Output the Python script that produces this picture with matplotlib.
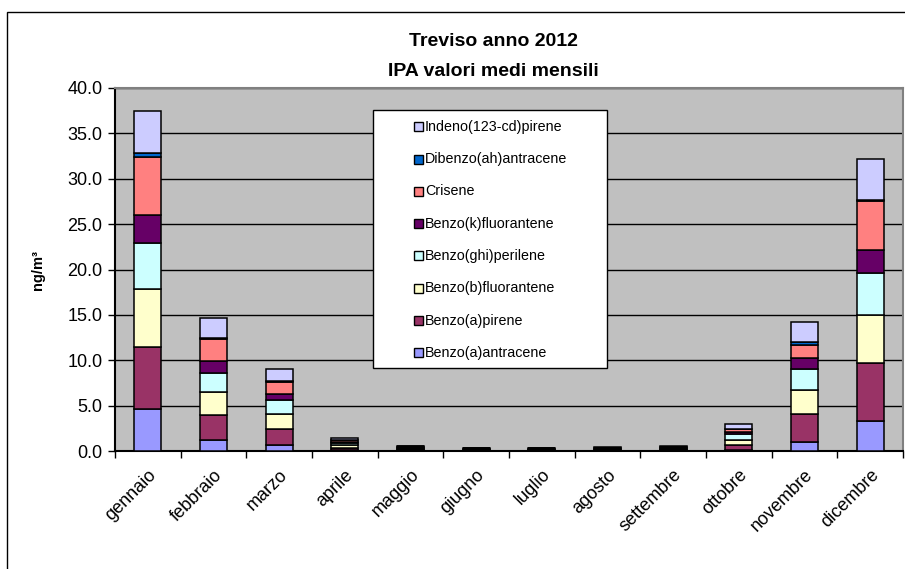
import numpy as np
import matplotlib
matplotlib.use("Agg")
from matplotlib import pyplot as plt, patches

plt.rcParams["font.family"] = ["Liberation Sans", "DejaVu Sans"]

months = ["gennaio", "febbraio", "marzo", "aprile", "maggio", "giugno",
          "luglio", "agosto", "settembre", "ottobre", "novembre", "dicembre"]

# IPA monthly means, ng/m3
benzo_a_antracene = [4.6, 1.25, 0.66, 0.10, 0.05, 0.03, 0.03, 0.03, 0.04, 0.10, 1.00, 3.30]
benzo_a_pirene = [6.9, 2.70, 1.75, 0.25, 0.10, 0.05, 0.05, 0.06, 0.09, 0.60, 3.05, 6.35]
benzo_b_fluorantene = [6.4, 2.55, 1.65, 0.30, 0.12, 0.08, 0.08, 0.08, 0.11, 0.55, 2.65, 5.30]
benzo_ghi_perilene = [5.0, 2.10, 1.55, 0.25, 0.10, 0.07, 0.07, 0.07, 0.10, 0.60, 2.30, 4.65]
benzo_k_fluorantene = [3.1, 1.30, 0.70, 0.10, 0.04, 0.03, 0.03, 0.03, 0.04, 0.20, 1.20, 2.50]
crisene = [6.4, 2.45, 1.30, 0.20, 0.08, 0.05, 0.05, 0.05, 0.07, 0.35, 1.50, 5.40]
dibenzo_ah_antracene = [0.4, 0.15, 0.10, 0.02, 0.01, 0.01, 0.01, 0.01, 0.01, 0.05, 0.30, 0.20]
indeno_pirene = [4.7, 2.15, 1.30, 0.20, 0.08, 0.05, 0.05, 0.06, 0.07, 0.50, 2.20, 4.50]

series = [
    ("Benzo(a)antracene", benzo_a_antracene, "#9999FF"),
    ("Benzo(a)pirene", benzo_a_pirene, "#993366"),
    ("Benzo(b)fluorantene", benzo_b_fluorantene, "#FFFFCC"),
    ("Benzo(ghi)perilene", benzo_ghi_perilene, "#CCFFFF"),
    ("Benzo(k)fluorantene", benzo_k_fluorantene, "#660066"),
    ("Crisene", crisene, "#FF8080"),
    ("Dibenzo(ah)antracene", dibenzo_ah_antracene, "#0066CC"),
    ("Indeno(123-cd)pirene", indeno_pirene, "#CCCCFF"),
]

W, H = 905, 569
fig = plt.figure(figsize=(W / 100, H / 100), dpi=100)

# outer chart frame
fig.patches.append(patches.Rectangle((7 / W, -0.1), 1.2, (H - 12) / H + 0.1,
                                     transform=fig.transFigure, fill=False,
                                     edgecolor="black", linewidth=1.0))

ax = fig.add_axes([115 / W, (H - 451) / H, (903 - 115) / W, (451 - 88) / H])
ax.set_facecolor("#C0C0C0")

x = np.arange(len(months))
bottom = np.zeros(len(months))
for name, vals, color in series:
    ax.bar(x, vals, width=0.41, bottom=bottom, color=color,
           edgecolor="black", linewidth=1.1, zorder=3)
    bottom += np.array(vals)

ax.set_xlim(-0.5, len(months) - 0.5)
ax.set_ylim(0, 40)
ax.set_yticks(np.arange(0, 40.1, 5))
ax.set_yticklabels([f"{v:.1f}" for v in np.arange(0, 40.1, 5)], fontsize=13)
ax.yaxis.grid(True, color="black", linewidth=1.0, zorder=0)
ax.set_axisbelow(True)

ax.set_xticks(np.arange(-0.5, len(months), 1), minor=False)
ax.set_xticklabels([])
ax.set_xticks(x, minor=True)
ax.set_xticklabels(months, minor=True, rotation=45, ha="right",
                   rotation_mode="anchor", fontsize=13)
ax.tick_params(axis="x", which="minor", length=0, pad=11)
ax.tick_params(axis="x", which="major", length=5, width=1, direction="out")
ax.tick_params(axis="y", length=5, width=1, direction="out", pad=4)

for side in ["top", "right"]:
    ax.spines[side].set_color("#808080")
    ax.spines[side].set_linewidth(1.5)
for side in ["left", "bottom"]:
    ax.spines[side].set_color("black")
    ax.spines[side].set_linewidth(1.5)

ax.set_ylabel("ng/m³", fontsize=10.5, fontweight="bold", labelpad=16)

fig.text(493 / W, 1 - 41 / H, "Treviso anno 2012", ha="center", va="center",
         fontsize=14, fontweight="bold")
fig.text(493 / W, 1 - 72 / H, "IPA valori medi mensili", ha="center", va="center",
         fontsize=14, fontweight="bold")

# legend box, drawn by hand in pixel coords
def px(xp, yp):
    return xp / W, 1 - yp / H

lx0, ly0 = px(373, 368)
lx1, ly1 = px(607, 110)
fig.patches.append(patches.Rectangle((lx0, ly0), lx1 - lx0, ly1 - ly0,
                                     transform=fig.transFigure, facecolor="white",
                                     edgecolor="black", linewidth=1.0, zorder=5))
for i, (name, vals, color) in enumerate(reversed(series)):
    yc = 126.7 + i * 32.3
    mx, my = px(414, yc + 4.5)
    fig.patches.append(patches.Rectangle((mx, my), 9 / W, 9 / H,
                                         transform=fig.transFigure, facecolor=color,
                                         edgecolor="black", linewidth=1.0, zorder=6))
    tx, ty = px(425, yc)
    fig.text(tx, ty, name, ha="left", va="center", fontsize=10.3, zorder=7)

fig.savefig("out.png", dpi=100)
